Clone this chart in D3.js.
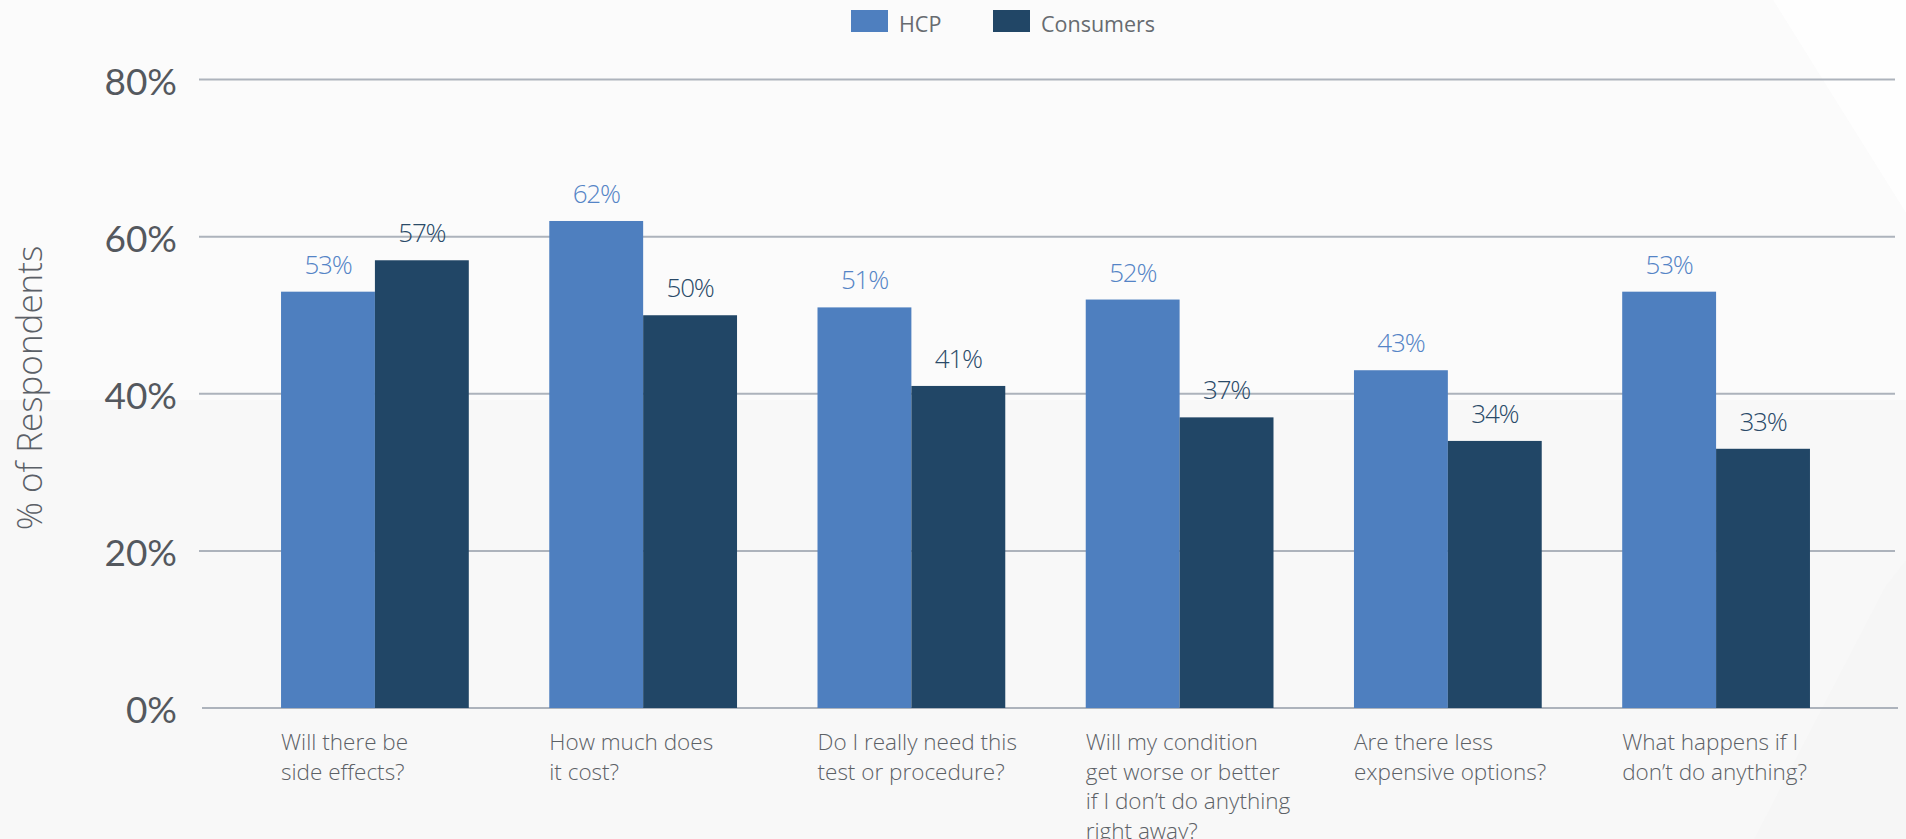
<!DOCTYPE html>
<html>
<head>
<meta charset="utf-8">
<script src="https://cdn.jsdelivr.net/npm/d3@7"></script>
<style>
  html, body { margin: 0; padding: 0; background: #f9f9f9; overflow: hidden; }
  svg { display: block; }
</style>
</head>
<body>
<svg id="chart" width="1906" height="839"></svg>
<script>
// Survey questions (x categories), one line per array entry
const categories = [
  ["Will there be", "side effects?"],
  ["How much does", "it cost?"],
  ["Do I really need this", "test or procedure?"],
  ["Will my condition", "get worse or better", "if I don\u2019t do anything", "right away?"],
  ["Are there less", "expensive options?"],
  ["What happens if I", "don\u2019t do anything?"]
];
const seriesNames = ["HCP", "Consumers"];
const hcpValues = [53, 62, 51, 52, 43, 53];
const consumerValues = [57, 50, 41, 37, 34, 33];
const yTicks = [0, 20, 40, 60, 80];
const yTitle = "% of Respondents";

const W = 1906, H = 839;
const colors = { HCP: "#4e7fbf", Consumers: "#214666" };
const labelColors = { HCP: "#5484c6", Consumers: "#2a4a68" };

const svg = d3.select("#chart");

// soft geometric backdrop
const bg = svg.append("g");
bg.append("rect").attr("width", W).attr("height", H).attr("fill", "#f8f8f8");
bg.append("polygon").attr("points", "40,0 1773,0 1906,213 1906,400 0,400 0,0")
  .attr("fill", "#fbfbfb");
bg.append("polygon").attr("points", "1773,0 1906,0 1906,213").attr("fill", "#fefefe");
bg.append("polygon").attr("points", "1885,587 1906,560 1906,839 1754,839").attr("fill", "#f6f6f6");

const rows = d3.range(categories.length).map(i => ({
  cat: categories[i],
  HCP: hcpValues[i],
  Consumers: consumerValues[i]
}));

const x0 = d3.scaleBand()
  .domain(d3.range(categories.length))
  .range([240.8, 1850.2])
  .paddingInner(0.3)
  .paddingOuter(0.15);

const x1 = d3.scaleBand()
  .domain(seriesNames)
  .range([0, x0.bandwidth()])
  .padding(0);

const y = d3.scaleLinear().domain([0, 80]).range([708, 79.6]);

// gridlines
const grid = svg.append("g");
grid.selectAll("line").data(yTicks).join("line")
  .attr("x1", d => d === 0 ? 202 : 199)
  .attr("x2", d => d === 0 ? 1898 : 1895)
  .attr("y1", d => y(d)).attr("y2", d => y(d))
  .attr("stroke", "#adb3bc").attr("stroke-width", 2);

// y tick labels
const fmtPct = d => d + "%";
svg.append("g").selectAll("text").data(yTicks).join("text")
  .attr("x", 177)
  .attr("y", d => y(d) + 15)
  .attr("text-anchor", "end")
  .attr("font-family", "Lato, sans-serif")
  .attr("font-weight", 400)
  .attr("font-size", 37)
  .attr("fill", "#54585e")
  .text(fmtPct);

// y axis title
svg.append("text")
  .attr("transform", "translate(42,388) rotate(-90)")
  .attr("text-anchor", "middle")
  .attr("font-family", "'Open Sans', sans-serif")
  .attr("font-weight", 300)
  .attr("font-size", 35)
  .attr("fill", "#5b6067")
  .text(yTitle);

// bars
const groups = svg.append("g").selectAll("g").data(rows).join("g")
  .attr("transform", (d, i) => `translate(${x0(i)},0)`);

groups.selectAll("rect")
  .data(d => seriesNames.map(k => ({ key: k, value: d[k] })))
  .join("rect")
  .attr("x", d => x1(d.key))
  .attr("width", x1.bandwidth())
  .attr("y", d => y(d.value))
  .attr("height", d => y(0) - y(d.value))
  .attr("fill", d => colors[d.key]);

// value labels
groups.selectAll("text.val")
  .data(d => seriesNames.map(k => ({ key: k, value: d[k] })))
  .join("text")
  .attr("class", "val")
  .attr("x", d => x1(d.key) + x1.bandwidth() / 2)
  .attr("y", d => y(d.value) - 18)
  .attr("text-anchor", "middle")
  .attr("font-family", "'Open Sans', sans-serif")
  .attr("font-weight", 300)
  .attr("font-size", 26)
  .attr("letter-spacing", -1.2)
  .attr("fill", d => labelColors[d.key])
  .text(d => fmtPct(d.value));

// category labels, left aligned under each group
const catG = svg.append("g");
rows.forEach((r, i) => {
  const t = catG.append("text")
    .attr("x", x0(i))
    .attr("y", 750)
    .attr("font-family", "'Open Sans', sans-serif")
    .attr("font-weight", 300)
    .attr("font-size", 22.5)
    .attr("fill", "#5c6166");
  r.cat.forEach((line, j) => {
    t.append("tspan").attr("x", x0(i)).attr("dy", j === 0 ? 0 : 29.5).text(line);
  });
});

// legend
const legend = svg.append("g");
const legendX = [851, 993];
seriesNames.forEach((name, i) => {
  legend.append("rect")
    .attr("x", legendX[i]).attr("y", 10)
    .attr("width", 37).attr("height", 22)
    .attr("fill", colors[name]);
  legend.append("text")
    .attr("x", legendX[i] + 48).attr("y", 32)
    .attr("font-family", "'Open Sans', sans-serif")
    .attr("font-weight", 400)
    .attr("font-size", 21.5)
    .attr("fill", "#676b70")
    .text(name);
});
</script>
</body>
</html>
